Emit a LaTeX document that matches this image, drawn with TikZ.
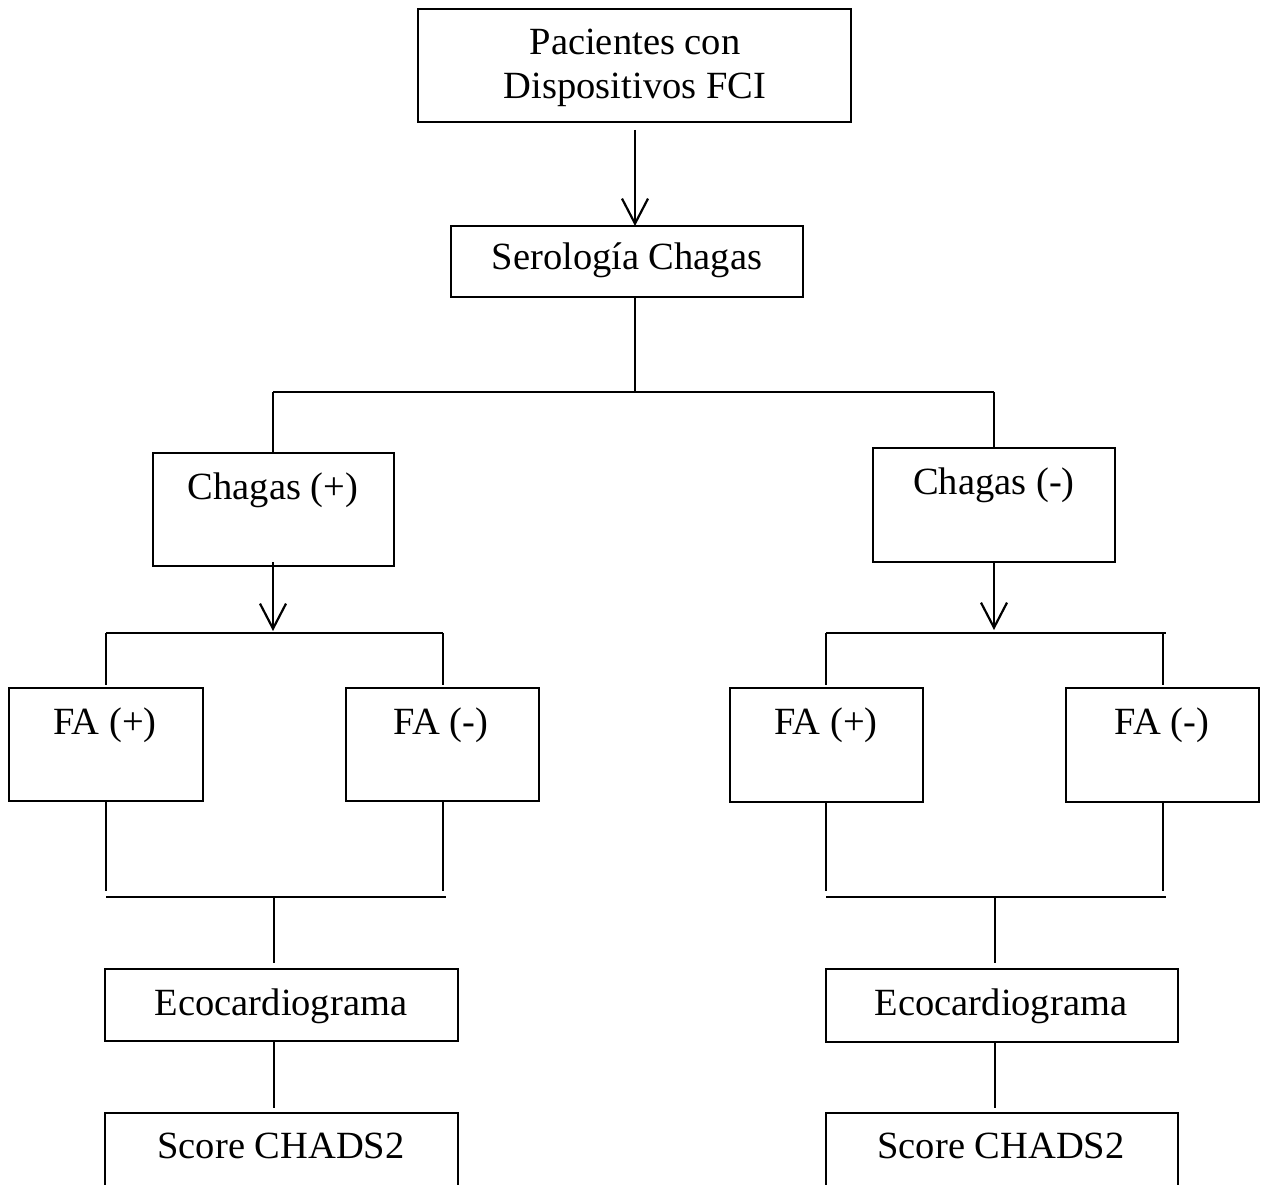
\documentclass[tikz,border=0pt]{standalone}
\usepackage{fontspec}
\setmainfont{Liberation Serif}
\usetikzlibrary{arrows.meta}
\begin{document}
\begin{tikzpicture}[x=1pt,y=-1pt,
  box/.style={draw=black, line width=2.8pt, fill=white, inner sep=0pt, outer sep=0pt},
  txt/.style={anchor=base, inner sep=0pt, font=\fontsize{38.5}{44}\selectfont},
  ln/.style={line width=2.8pt},
  arr/.style={line width=2.8pt, -{Straight Barb[length=25pt,width=26pt,line width=2.2pt]}}]
\useasboundingbox (0,0) rectangle (1270,1185);
% boxes
\node[box, minimum width=433pt, minimum height=113pt] (pac) at (634.5,65.5) {};
\node[box, minimum width=352pt, minimum height=71pt] (ser) at (627,261.5) {};
\node[box, minimum width=241pt, minimum height=113pt] (cp) at (273.5,509.5) {};
\node[box, minimum width=242pt, minimum height=114pt] (cn) at (994,505) {};
\node[box, minimum width=194pt, minimum height=113pt] (fa1) at (106,744.5) {};
\node[box, minimum width=193pt, minimum height=113pt] (fa2) at (442.5,744.5) {};
\node[box, minimum width=193pt, minimum height=114pt] (fa3) at (826.5,745) {};
\node[box, minimum width=193pt, minimum height=114pt] (fa4) at (1162.5,745) {};
\node[box, minimum width=353pt, minimum height=72pt] (eco1) at (281.5,1005) {};
\node[box, minimum width=352pt, minimum height=73pt] (eco2) at (1002,1005.5) {};
\node[box, minimum width=353pt, minimum height=90pt] (sc1) at (281.5,1158) {};
\node[box, minimum width=352pt, minimum height=90pt] (sc2) at (1002,1158) {};
% texts
\node[txt] (pacT1) at (635,55) {Pacientes con};
\node[txt] (pacT2) at (635,99) {Dispositivos FCI};
\node[txt] (serT) at (627,270) {Serología Chagas};
\node[txt] (cpT) at (273,499) {Chagas (+)};
\node[txt] (cnT) at (994,494) {Chagas (-)};
\node[txt] (fa1T) at (105,734) {FA (+)};
\node[txt] (fa2T) at (441,734) {FA (-)};
\node[txt] (fa3T) at (826,734) {FA (+)};
\node[txt] (fa4T) at (1162,734) {FA (-)};
\node[txt] (eco1T) at (281,1015) {Ecocardiograma};
\node[txt] (eco2T) at (1001,1015) {Ecocardiograma};
\node[txt] (sc1T) at (281,1158) {Score CHADS2};
\node[txt] (sc2T) at (1001,1158) {Score CHADS2};
% junction coordinates
\coordinate (j0) at (635,392);
\coordinate (jL) at (273,392);
\coordinate (jR) at (994,392);
\coordinate (bL) at (273,633);
\coordinate (bLa) at (106,633);
\coordinate (bLb) at (443,633);
\coordinate (bR) at (994,633);
\coordinate (bRa) at (826,633);
\coordinate (bRb) at (1163,633);
\coordinate (mL) at (274,897);
\coordinate (mLa) at (106,897);
\coordinate (mLb) at (446,897);
\coordinate (mR) at (995,897);
\coordinate (mRa) at (826,897);
\coordinate (mRb) at (1166,897);
% connectors
\draw[arr] (pac.south -| pacT1.base) ++(0,8) -- (ser.north -| pacT1.base);
\draw[ln] (ser.south -| j0) -- (j0);
\draw[ln] (jL) -- (jR);
\draw[ln] (jL) -- (cp.north -| jL);
\draw[ln] (jR) -- (cn.north -| jR);
\draw[arr] (cp.south -| bL) ++(0,-4) -- ([yshift=2pt]bL);
\draw[arr] (cn.south -| bR) -- ([yshift=3pt]bR);
\draw[ln] (bLa) -- (bLb);
\draw[ln] (bRa) -- ([xshift=3pt]bRb);
\draw[ln, shorten >=3pt] (bLa) -- (fa1.north -| bLa);
\draw[ln, shorten >=3pt] (bLb) -- (fa2.north -| bLb);
\draw[ln, shorten >=3pt] (bRa) -- (fa3.north -| bRa);
\draw[ln, shorten >=3pt] (bRb) -- (fa4.north -| bRb);
\draw[ln, shorten >=6pt] (fa1.south -| mLa) -- (mLa);
\draw[ln, shorten >=6pt] (fa2.south -| bLb) -- (bLb |- mL);
\draw[ln, shorten >=6pt] (fa3.south -| mRa) -- (mRa);
\draw[ln, shorten >=6pt] (fa4.south -| bRb) -- (bRb |- mR);
\draw[ln] (mLa) -- (mLb);
\draw[ln] (mRa) -- (mRb);
\draw[ln, shorten >=6pt] (mL) -- (eco1.north -| mL);
\draw[ln, shorten >=6pt] (mR) -- (eco2.north -| mR);
\draw[ln, shorten >=5pt] (eco1.south -| mL) -- (sc1.north -| mL);
\draw[ln, shorten >=5pt] (eco2.south -| mR) -- (sc2.north -| mR);
\end{tikzpicture}
\end{document}
